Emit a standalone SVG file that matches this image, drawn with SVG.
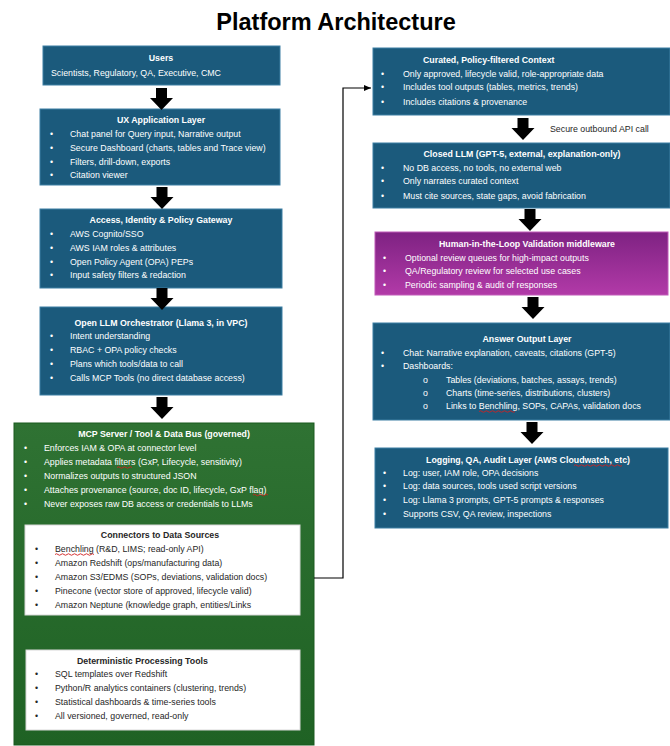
<svg xmlns="http://www.w3.org/2000/svg" width="670" height="746" viewBox="0 0 670 746">
<defs>
<linearGradient id="purp" x1="0" y1="0" x2="0" y2="1">
<stop offset="0" stop-color="#7e2282"/>
<stop offset="1" stop-color="#b23aa8"/>
</linearGradient>
<linearGradient id="grn" x1="0" y1="0" x2="0" y2="1">
<stop offset="0" stop-color="#2f7233"/>
<stop offset="1" stop-color="#1f6224"/>
</linearGradient>
<marker id="ah" markerWidth="8" markerHeight="8" refX="7" refY="4" orient="auto" markerUnits="userSpaceOnUse">
<path d="M0,1 L7,4 L0,7 Z" fill="#000"/>
</marker>
<path id="barrow" d="M-5.5,0 H5.5 V10 H11.5 L0,22 L-11.5,10 H-5.5 Z"/>
</defs>
<style>
.blue{fill:#1b5a7c;stroke:#3d7fa3;stroke-width:1}
.white{fill:#ffffff;stroke:#d8d8d8;stroke-width:1}
.t{font-family:"Liberation Sans",Arial,sans-serif;font-size:8.8px;fill:#ffffff}
.h{font-family:"Liberation Sans",Arial,sans-serif;font-size:8.8px;font-weight:bold;fill:#ffffff}
.td{font-family:"Liberation Sans",Arial,sans-serif;font-size:8.8px;fill:#262626}
.hd{font-family:"Liberation Sans",Arial,sans-serif;font-size:8.8px;font-weight:bold;fill:#262626}
.title{font-family:"Liberation Sans",Arial,sans-serif;font-size:23.5px;font-weight:bold;fill:#000}
.sq{fill:none;stroke:#d02020;stroke-width:0.9}
</style>
<rect width="670" height="746" fill="#ffffff"/>
<text class="title" x="336" y="30" text-anchor="middle">Platform Architecture</text>

<g id="users">
<rect class="blue" x="43" y="46" width="237" height="39"/>
<text class="h" x="161" y="61" text-anchor="middle">Users</text>
<text class="t" x="51" y="76">Scientists, Regulatory, QA, Executive, CMC</text>
</g>

<g id="ux">
<rect class="blue" x="40" y="109" width="240" height="76"/>
<text class="h" x="161" y="123" text-anchor="middle">UX Application Layer</text>
<g class="t">
<text x="50" y="136.5">•</text><text x="70" y="136.5">Chat panel for Query input, Narrative output</text>
<text x="50" y="150.5">•</text><text x="70" y="150.5">Secure Dashboard (charts, tables and Trace view)</text>
<text x="50" y="164.5">•</text><text x="70" y="164.5">Filters, drill-down, exports</text>
<text x="50" y="178">•</text><text x="70" y="178">Citation viewer</text>
</g>
</g>

<g id="access">
<rect class="blue" x="40" y="209" width="242" height="79"/>
<text class="h" x="161" y="223" text-anchor="middle">Access, Identity &amp; Policy Gateway</text>
<g class="t">
<text x="50" y="236.5">•</text><text x="70" y="236.5">AWS Cognito/SSO</text>
<text x="50" y="250.5">•</text><text x="70" y="250.5">AWS IAM roles &amp; attributes</text>
<text x="50" y="264.5">•</text><text x="70" y="264.5">Open Policy Agent (OPA) PEPs</text>
<text x="50" y="278">•</text><text x="70" y="278">Input safety filters &amp; redaction</text>
</g>
</g>

<g id="orchestrator">
<rect class="blue" x="40" y="307" width="242" height="88"/>
<text class="h" x="161" y="325.5" text-anchor="middle">Open LLM Orchestrator (Llama 3, in VPC)</text>
<g class="t">
<text x="50" y="339">•</text><text x="70" y="339">Intent understanding</text>
<text x="50" y="352.5">•</text><text x="70" y="352.5">RBAC + OPA policy checks</text>
<text x="50" y="366.5">•</text><text x="70" y="366.5">Plans which tools/data to call</text>
<text x="50" y="380.5">•</text><text x="70" y="380.5">Calls MCP Tools (no direct database access)</text>
</g>
</g>

<g id="mcp">
<rect x="14" y="423" width="300" height="322" fill="url(#grn)" stroke="#1a5a1f" stroke-width="1"/>
<text class="h" x="164" y="436.5" text-anchor="middle">MCP Server / Tool &amp; Data Bus (governed)</text>
<g class="t">
<text x="24" y="451">•</text><text x="44" y="451">Enforces IAM &amp; OPA at connector level</text>
<text x="24" y="465">•</text><text x="44" y="465">Applies metadata filters (GxP, Lifecycle, sensitivity)</text>
<text x="24" y="479">•</text><text x="44" y="479">Normalizes outputs to structured JSON</text>
<text x="24" y="492.5">•</text><text x="44" y="492.5">Attaches provenance (source, doc ID, lifecycle, GxP flag)</text>
<text x="24" y="506.5">•</text><text x="44" y="506.5">Never exposes raw DB access or credentials to LLMs</text>
</g>
<path class="sq" d="M117,467.5 q1.5,-1.5 3,0 t3,0 t3,0 t3,0 t3,0"/>
<path class="sq" d="M253,495 q1.5,-1.5 3,0 t3,0 t3,0 t3,0 t3,0"/>
</g>

<g id="connectors">
<rect class="white" x="25" y="525" width="275" height="90"/>
<text class="hd" x="160" y="538" text-anchor="middle">Connectors to Data Sources</text>
<g class="td">
<text x="35" y="552">•</text><text x="55" y="552">Benchling (R&amp;D, LIMS; read-only API)</text>
<text x="35" y="565.5">•</text><text x="55" y="565.5">Amazon Redshift (ops/manufacturing data)</text>
<text x="35" y="580">•</text><text x="55" y="580">Amazon S3/EDMS (SOPs, deviations, validation docs)</text>
<text x="35" y="594">•</text><text x="55" y="594">Pinecone (vector store of approved, lifecycle valid)</text>
<text x="35" y="607.5">•</text><text x="55" y="607.5">Amazon Neptune (knowledge graph, entities/Links</text>
</g>
<path class="sq" d="M55,554.5 q1.5,-1.5 3,0 t3,0 t3,0 t3,0 t3,0 t3,0 t3,0 t3,0 t3,0 t3,0 t3,0 t3,0 t3,0"/>
</g>

<g id="deterministic">
<rect class="white" x="26" y="650" width="274" height="80"/>
<text class="hd" x="77" y="664">Deterministic Processing Tools</text>
<g class="td">
<text x="35" y="677">•</text><text x="55" y="677">SQL templates over Redshift</text>
<text x="35" y="690.5">•</text><text x="55" y="690.5">Python/R analytics containers (clustering, trends)</text>
<text x="35" y="705">•</text><text x="55" y="705">Statistical dashboards &amp; time-series tools</text>
<text x="35" y="719">•</text><text x="55" y="719">All versioned, governed, read-only</text>
</g>
</g>

<g id="curated">
<rect class="blue" x="373" y="48" width="297" height="67"/>
<text class="h" x="423" y="63">Curated, Policy-filtered Context</text>
<g class="t">
<text x="381" y="76.5">•</text><text x="403" y="76.5">Only approved, lifecycle valid, role-appropriate data</text>
<text x="381" y="90">•</text><text x="403" y="90">Includes tool outputs (tables, metrics, trends)</text>
<text x="381" y="105">•</text><text x="403" y="105">Includes citations &amp; provenance</text>
</g>
</g>

<g id="closed-llm">
<rect class="blue" x="373" y="143" width="297" height="65"/>
<text class="h" x="522" y="156.5" text-anchor="middle">Closed LLM (GPT-5, external, explanation-only)</text>
<g class="t">
<text x="381" y="171">•</text><text x="403" y="171">No DB access, no tools, no external web</text>
<text x="381" y="184">•</text><text x="403" y="184">Only narrates curated context</text>
<text x="381" y="199">•</text><text x="403" y="199">Must cite sources, state gaps, avoid fabrication</text>
</g>
</g>

<g id="hitl">
<rect x="375" y="232" width="293" height="63" fill="url(#purp)" stroke="#c05ab8" stroke-width="1"/>
<text class="h" x="527" y="246.5" text-anchor="middle">Human-in-the-Loop Validation middleware</text>
<g class="t">
<text x="383" y="261">•</text><text x="405" y="261">Optional review queues for high-impact outputs</text>
<text x="383" y="274">•</text><text x="405" y="274">QA/Regulatory review for selected use cases</text>
<text x="383" y="288">•</text><text x="405" y="288">Periodic sampling &amp; audit of responses</text>
</g>
</g>

<g id="answer">
<rect class="blue" x="373" y="323" width="297" height="97"/>
<text class="h" x="527" y="341.5" text-anchor="middle">Answer Output Layer</text>
<g class="t">
<text x="381" y="355.5">•</text><text x="403" y="355.5">Chat: Narrative explanation, caveats, citations (GPT-5)</text>
<text x="381" y="369">•</text><text x="403" y="369">Dashboards:</text>
<text x="423" y="383">o</text><text x="446" y="383">Tables (deviations, batches, assays, trends)</text>
<text x="423" y="396">o</text><text x="446" y="396">Charts (time-series, distributions, clusters)</text>
<text x="423" y="409">o</text><text x="446" y="409">Links to Benchling, SOPs, CAPAs, validation docs</text>
</g>
<path class="sq" d="M479,411.5 q1.5,-1.5 3,0 t3,0 t3,0 t3,0 t3,0 t3,0 t3,0 t3,0 t3,0 t3,0 t3,0 t3,0"/>
</g>

<g id="logging">
<rect class="blue" x="375" y="448" width="293" height="80"/>
<text class="h" x="528" y="463" text-anchor="middle">Logging, QA, Audit Layer (AWS Cloudwatch, etc)</text>
<g class="t">
<text x="383" y="476">•</text><text x="403" y="476">Log: user, IAM role, OPA decisions</text>
<text x="383" y="489">•</text><text x="403" y="489">Log: data sources, tools used script versions</text>
<text x="383" y="503">•</text><text x="403" y="503">Log: Llama 3 prompts, GPT-5 prompts &amp; responses</text>
<text x="383" y="516.5">•</text><text x="403" y="516.5">Supports CSV, QA review, inspections</text>
</g>
<path class="sq" d="M574,465.5 q1.5,-1.5 3,0 t3,0 t3,0 t3,0 t3,0 t3,0 t3,0 t3,0 t3,0 t3,0 t3,0 t3,0 t3,0 t3,0 t3,0 t3,0"/>
</g>

<g id="connectors-lines">
<use href="#barrow" x="161.5" y="88"/>
<use href="#barrow" x="162" y="187"/>
<use href="#barrow" x="162" y="288"/>
<use href="#barrow" x="162" y="397"/>
<use href="#barrow" x="523" y="118"/>
<use href="#barrow" x="530" y="209"/>
<use href="#barrow" x="533" y="297"/>
<use href="#barrow" x="532" y="422"/>
<polyline points="314,578 343,578 343,88 371,88" fill="none" stroke="#000" stroke-width="1.2" marker-end="url(#ah)"/>
<text x="550" y="132" font-family="'Liberation Sans',Arial,sans-serif" font-size="8.8" fill="#262626">Secure outbound API call</text>
</g>
</svg>
